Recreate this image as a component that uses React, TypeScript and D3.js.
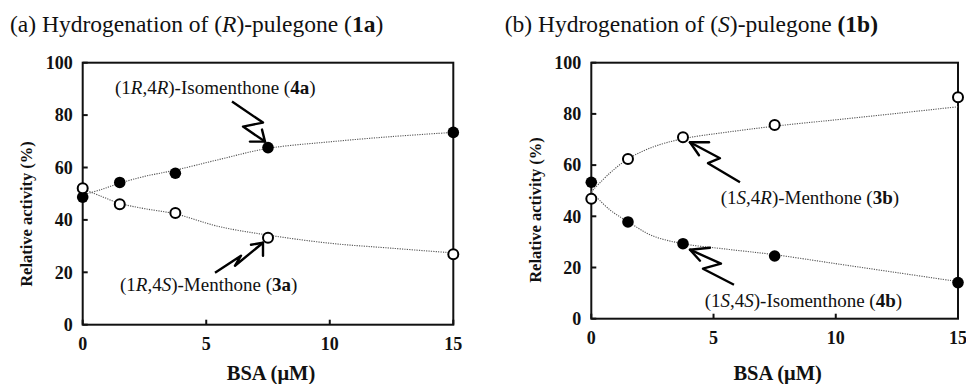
import React, { useEffect, useRef } from "react";
import * as d3 from "d3";

// measured points
const bsa = [0, 1.5, 3.75, 7.5, 15];
const iso4a = [48.7, 54.3, 57.8, 67.6, 73.4];
const men3a = [52.1, 46.0, 42.6, 33.2, 26.9];
const men3b = [46.9, 62.4, 70.9, 75.7, 86.5];
const iso4b = [53.3, 37.8, 29.3, 24.5, 14.1];

// fitted (dotted) curves
const fitX = [0, 0.75, 1.5, 2.5, 3.75, 5.5, 7.5, 10, 12.5, 15];
const fit4a = [49.5, 51.6, 54.0, 56.6, 59.0, 63.0, 67.3, 69.8, 71.8, 73.4];
const fit3a = [51.8, 49.0, 46.3, 44.3, 42.3, 37.5, 34.2, 31.1, 29.2, 27.4];
const fit3b = [49.6, 56.8, 62.4, 67.0, 70.3, 72.8, 75.2, 77.7, 80.2, 82.8];
const fit4b = [49.6, 42.6, 37.9, 32.4, 29.3, 27.2, 25.0, 21.5, 18.0, 14.5];

const xTicks = [0, 5, 10, 15];
const yTicks = [0, 20, 40, 60, 80, 100];

type Part = { t: string; i?: boolean; b?: boolean };

const titleA: Part[] = [{ t: "(a) Hydrogenation of (" }, { t: "R", i: true }, { t: ")-pulegone (" }, { t: "1a", b: true }, { t: ")" }];
const titleB: Part[] = [{ t: "(b) Hydrogenation of (" }, { t: "S", i: true }, { t: ")-pulegone " }, { t: "(1b)", b: true }];
const label4a: Part[] = [{ t: "(1" }, { t: "R", i: true }, { t: ",4" }, { t: "R", i: true }, { t: ")-Isomenthone (" }, { t: "4a", b: true }, { t: ")" }];
const label3a: Part[] = [{ t: "(1" }, { t: "R", i: true }, { t: ",4" }, { t: "S", i: true }, { t: ")-Menthone (" }, { t: "3a", b: true }, { t: ")" }];
const label3b: Part[] = [{ t: "(1" }, { t: "S", i: true }, { t: ",4" }, { t: "R", i: true }, { t: ")-Menthone (" }, { t: "3b", b: true }, { t: ")" }];
const label4b: Part[] = [{ t: "(1" }, { t: "S", i: true }, { t: ",4" }, { t: "S", i: true }, { t: ")-Isomenthone (" }, { t: "4b", b: true }, { t: ")" }];

const FONT = "Liberation Serif, Tinos, Times New Roman, DejaVu Serif, serif";

interface Arrow {
  idx: number; // which data point it points at
  series: "open" | "filled";
  // zigzag path relative to the point, tail first, tip last
  path: [number, number][];
  wings: [number, number][];
}

interface PanelCfg {
  left: number;
  right: number;
  top: number;
  bottom: number;
  title: Part[];
  titleX: number;
  filled: number[];
  open: number[];
  fitFilled: number[];
  fitOpen: number[];
  yTitleX: number;
  yTitleY: number;
  labels: { parts: Part[]; x: number; y: number }[];
  arrows: Arrow[];
}

const panels: PanelCfg[] = [
  {
    left: 82.7, right: 453.3, top: 62.7, bottom: 324.7,
    title: titleA, titleX: 10,
    filled: iso4a, open: men3a, fitFilled: fit4a, fitOpen: fit3a,
    yTitleX: 26.7, yTitleY: 214,
    labels: [
      { parts: label4a, x: 115, y: 94 },
      { parts: label3a, x: 120, y: 291 },
    ],
    arrows: [
      { idx: 3, series: "filled", path: [[-36, -46], [-5, -25], [-25, -21], [-3, -6]], wings: [[-18, -6], [-6, -18]] },
      { idx: 3, series: "open", path: [[-53, 35], [-27, 18], [-33, 28], [-5, 5]], wings: [[-17, 7], [-5, 18]] },
    ],
  },
  {
    left: 591.3, right: 958, top: 62.7, bottom: 318.7,
    title: titleB, titleX: 504.7,
    filled: iso4b, open: men3b, fitFilled: fit4b, fitOpen: fit3b,
    yTitleX: 535.5, yTitleY: 210,
    labels: [
      { parts: label3b, x: 720.7, y: 203.5 },
      { parts: label4b, x: 704.7, y: 307 },
    ],
    arrows: [
      { idx: 2, series: "open", path: [[57, 45], [25, 26], [37, 21], [7, 5]], wings: [[26, 5], [16, 18]] },
      { idx: 2, series: "filled", path: [[51, 41], [20, 25], [38, 20], [7, 6]], wings: [[27, 4], [17, 17]] },
    ],
  },
];

function addRich(sel: d3.Selection<SVGTextElement, unknown, null, undefined>, parts: Part[]) {
  parts.forEach((p) => {
    sel.append("tspan")
      .attr("font-style", p.i ? "italic" : "normal")
      .attr("font-weight", p.b ? "bold" : "normal")
      .text(p.t);
  });
}

const Chart: React.FC = () => {
  const svgRef = useRef<SVGSVGElement | null>(null);

  useEffect(() => {
    if (!svgRef.current) return;
    const svg = d3.select(svgRef.current);
    svg.selectAll("*").remove();

    panels.forEach((p) => {
      const g = svg.append("g").attr("font-family", FONT).attr("fill", "#111");
      const x = d3.scaleLinear().domain([0, 15]).range([p.left, p.right]);
      const y = d3.scaleLinear().domain([0, 100]).range([p.bottom, p.top]);

      // title
      const t = g.append("text")
        .attr("x", p.titleX).attr("y", 32)
        .attr("font-size", 23.5);
      addRich(t, p.title);

      // frame
      g.append("rect")
        .attr("x", p.left).attr("y", p.top)
        .attr("width", p.right - p.left).attr("height", p.bottom - p.top)
        .attr("fill", "none").attr("stroke", "#111").attr("stroke-width", 2);

      // ticks (inward)
      xTicks.forEach((v) => {
        g.append("line")
          .attr("x1", x(v)).attr("x2", x(v))
          .attr("y1", p.bottom).attr("y2", p.bottom - 5)
          .attr("stroke", "#111").attr("stroke-width", 2);
        g.append("text")
          .attr("x", x(v)).attr("y", p.bottom + 25)
          .attr("text-anchor", "middle")
          .attr("font-size", 18).attr("font-weight", "bold")
          .text(v);
      });
      yTicks.forEach((v) => {
        g.append("line")
          .attr("x1", p.left).attr("x2", p.left + 5)
          .attr("y1", y(v)).attr("y2", y(v))
          .attr("stroke", "#111").attr("stroke-width", 2);
        g.append("text")
          .attr("x", p.left - 10).attr("y", y(v))
          .attr("dy", "0.35em")
          .attr("text-anchor", "end")
          .attr("font-size", 18).attr("font-weight", "bold")
          .text(v);
      });

      // axis titles
      g.append("text")
        .attr("x", (p.left + p.right) / 2 + 3).attr("y", 380)
        .attr("text-anchor", "middle")
        .attr("font-size", 20.5).attr("font-weight", "bold")
        .text("BSA (\u03BCM)");
      g.append("text")
        .attr("transform", `translate(${p.yTitleX},${p.yTitleY}) rotate(-90)`)
        .attr("dy", "0.35em")
        .attr("text-anchor", "middle")
        .attr("font-size", 16.5).attr("font-weight", "bold")
        .text("Relative activity (%)");

      // fitted curves
      const line = d3.line<number>()
        .x((_, i) => x(fitX[i]))
        .y((d) => y(d))
        .curve(d3.curveCatmullRom.alpha(0.5));
      [p.fitFilled, p.fitOpen].forEach((f) => {
        g.append("path")
          .datum(f)
          .attr("d", line)
          .attr("fill", "none")
          .attr("stroke", "#555")
          .attr("stroke-width", 1.1)
          .attr("stroke-dasharray", "1.2,1.2");
      });

      // markers
      g.selectAll(".filled")
        .data(p.filled)
        .enter()
        .append("circle")
        .attr("cx", (_, i) => x(bsa[i]))
        .attr("cy", (d) => y(d))
        .attr("r", 5.8)
        .attr("fill", "#000");
      g.selectAll(".open")
        .data(p.open)
        .enter()
        .append("circle")
        .attr("cx", (_, i) => x(bsa[i]))
        .attr("cy", (d) => y(d))
        .attr("r", 5)
        .attr("fill", "#fff")
        .attr("stroke", "#000")
        .attr("stroke-width", 2);

      // annotation labels
      p.labels.forEach((l) => {
        const tx = g.append("text")
          .attr("x", l.x).attr("y", l.y)
          .attr("font-size", 19);
        addRich(tx, l.parts);
      });

      // zigzag arrows
      p.arrows.forEach((a) => {
        const vals = a.series === "open" ? p.open : p.filled;
        const px = x(bsa[a.idx]);
        const py = y(vals[a.idx]);
        const pts = a.path.map(([dx, dy]) => [px + dx, py + dy] as [number, number]);
        const tip = pts[pts.length - 1];
        g.append("path")
          .attr("d", d3.line()(pts))
          .attr("fill", "none").attr("stroke", "#000").attr("stroke-width", 2.4)
          .attr("stroke-linejoin", "round");
        a.wings.forEach(([dx, dy]) => {
          g.append("line")
            .attr("x1", tip[0]).attr("y1", tip[1])
            .attr("x2", px + dx).attr("y2", py + dy)
            .attr("stroke", "#000").attr("stroke-width", 2.4)
            .attr("stroke-linecap", "round");
        });
      });
    });
  }, []);

  return <svg ref={svgRef} width={966} height={384} style={{ display: "block", background: "#fff" }} />;
};

export default function App() {
  return (
    <div style={{ position: "fixed", left: 0, top: 0, width: 966, height: 384, background: "#fff" }}>
      <Chart />
    </div>
  );
}
